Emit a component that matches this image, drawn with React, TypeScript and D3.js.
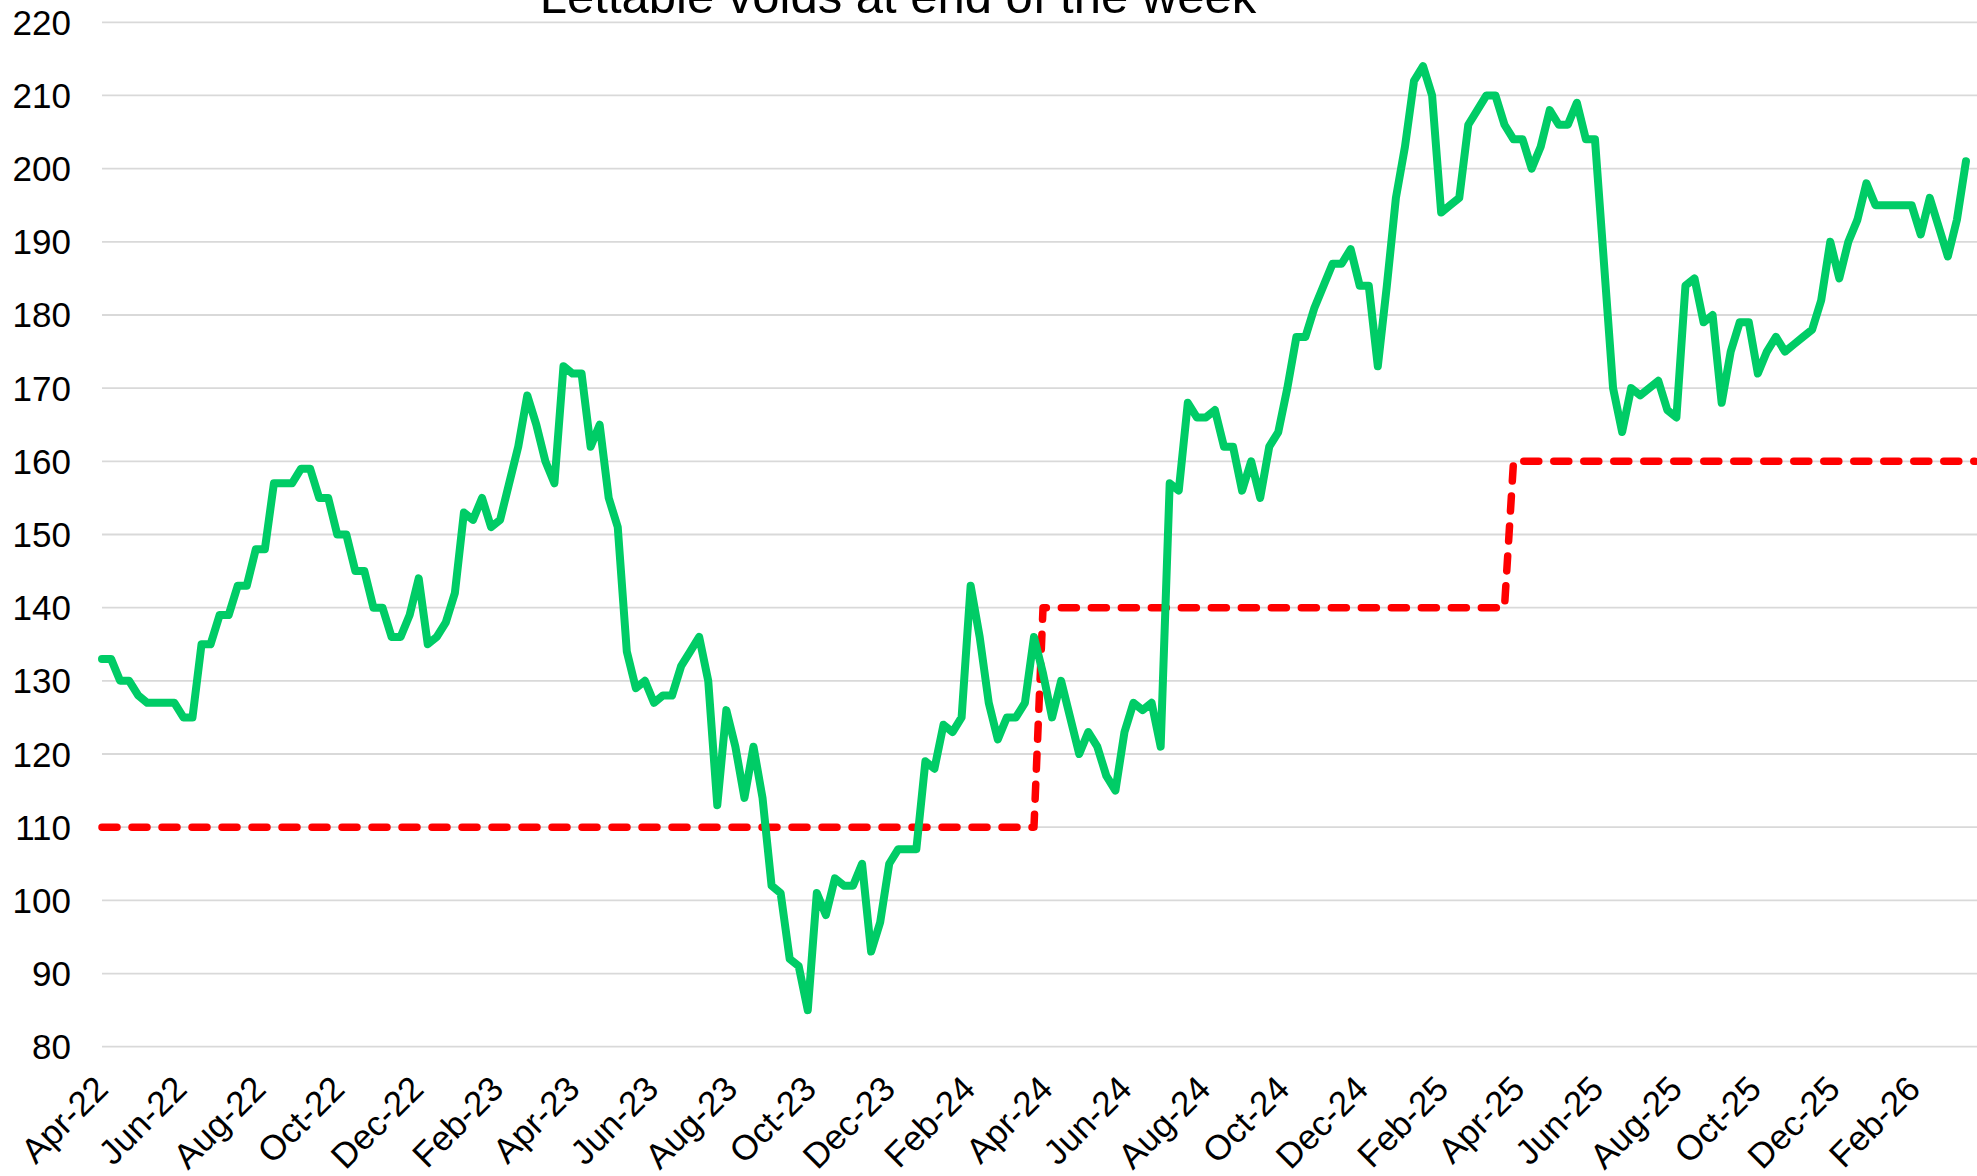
import React from "react";
import * as d3 from "d3";

const title = "Lettable voids at end of the week";

const startDate = new Date(2022, 3, 3);

const voids = [
  133, 133, 130, 130, 128, 127, 127, 127, 127, 125,
  125, 135, 135, 139, 139, 143, 143, 148, 148, 157,
  157, 157, 159, 159, 155, 155, 150, 150, 145, 145,
  140, 140, 136, 136, 139, 144, 135, 136, 138, 142,
  153, 152, 155, 151, 152, 157, 162, 169, 165, 160,
  157, 173, 172, 172, 162, 165, 155, 151, 134, 129,
  130, 127, 128, 128, 132, 134, 136, 130, 113, 126,
  121, 114, 121, 114, 102, 101, 92, 91, 85, 101,
  98, 103, 102, 102, 105, 93, 97, 105, 107, 107,
  107, 119, 118, 124, 123, 125, 143, 136, 127, 122,
  125, 125, 127, 136, 131, 125, 130, 125, 120, 123,
  121, 117, 115, 123, 127, 126, 127, 121, 157, 156,
  168, 166, 166, 167, 162, 162, 156, 160, 155, 162,
  164, 170, 177, 177, 181, 184, 187, 187, 189, 184,
  184, 173, 184, 196, 203, 212, 214, 210, 194, 195,
  196, 206, 208, 210, 210, 206, 204, 204, 200, 203,
  208, 206, 206, 209, 204, 204, 187, 170, 164, 170,
  169, 170, 171, 167, 166, 184, 185, 179, 180, 168,
  175, 179, 179, 172, 175, 177, 175, 176, 177, 178,
  182, 190, 185, 190, 193, 198, 195, 195, 195, 195,
  195, 191, 196, 192, 188, 193, 201,
];

const target = [
  110, 110, 110, 110, 110, 110, 110, 110, 110, 110,
  110, 110, 110, 110, 110, 110, 110, 110, 110, 110,
  110, 110, 110, 110, 110, 110, 110, 110, 110, 110,
  110, 110, 110, 110, 110, 110, 110, 110, 110, 110,
  110, 110, 110, 110, 110, 110, 110, 110, 110, 110,
  110, 110, 110, 110, 110, 110, 110, 110, 110, 110,
  110, 110, 110, 110, 110, 110, 110, 110, 110, 110,
  110, 110, 110, 110, 110, 110, 110, 110, 110, 110,
  110, 110, 110, 110, 110, 110, 110, 110, 110, 110,
  110, 110, 110, 110, 110, 110, 110, 110, 110, 110,
  110, 110, 110, 110,
  140, 140, 140, 140, 140, 140, 140, 140, 140, 140,
  140, 140, 140, 140, 140, 140, 140, 140, 140, 140,
  140, 140, 140, 140, 140, 140, 140, 140, 140, 140,
  140, 140, 140, 140, 140, 140, 140, 140, 140, 140,
  140, 140, 140, 140, 140, 140, 140, 140, 140, 140,
  140, 140,
  160, 160, 160, 160, 160, 160, 160, 160, 160, 160,
  160, 160, 160, 160, 160, 160, 160, 160, 160, 160,
  160, 160, 160, 160, 160, 160, 160, 160, 160, 160,
  160, 160, 160, 160, 160, 160, 160, 160, 160, 160,
  160, 160, 160, 160, 160, 160, 160, 160, 160, 160,
  160, 160,
];

const yTicks = [80, 90, 100, 110, 120, 130, 140, 150, 160, 170, 180, 190, 200, 210, 220];

const xTickLabels = [
  "Apr-22", "Jun-22", "Aug-22", "Oct-22", "Dec-22", "Feb-23",
  "Apr-23", "Jun-23", "Aug-23", "Oct-23", "Dec-23", "Feb-24",
  "Apr-24", "Jun-24", "Aug-24", "Oct-24", "Dec-24", "Feb-25",
  "Apr-25", "Jun-25", "Aug-25", "Oct-25", "Dec-25", "Feb-26",
];

export default function App() {
  const W = 1977;
  const H = 1176;
  const left = 102;
  const right = 1975;
  const dates = target.map((_, i) => d3.timeWeek.offset(startDate, i));
  const x = d3.scaleTime().domain([dates[0], dates[dates.length - 1]]).range([left, right]);
  const y = d3.scaleLinear().domain([80, 220]).range([1046.7, 22.3]);

  const line = d3
    .line<number>()
    .x((_, i) => x(dates[i]))
    .y((d) => y(d));

  const tickDates = xTickLabels.map((_, i) => d3.timeMonth.offset(startDate, 2 * i));
  const font = "'Liberation Sans', Arial, sans-serif";

  return (
    <svg
      width={W}
      height={H}
      style={{ position: "absolute", left: 0, top: 0, background: "#fff" }}
      fontFamily={font}
    >
      <rect x={0} y={0} width={W} height={H} fill="#fff" />
      {yTicks.map((t) => (
        <g key={t}>
          <line x1={left} x2={W} y1={y(t)} y2={y(t)} stroke="#d9d9d9" strokeWidth={1.8} />
          <text x={71} y={y(t)} textAnchor="end" dominantBaseline="central" fontSize={35} fill="#000">
            {t}
          </text>
        </g>
      ))}
      {tickDates.map((d, i) => {
        const tx = x(d) + 8;
        const ty = 1091;
        return (
          <text
            key={xTickLabels[i]}
            x={tx}
            y={ty}
            textAnchor="end"
            fontSize={35}
            fill="#000"
            transform={`rotate(-45 ${tx} ${ty})`}
          >
            {xTickLabels[i]}
          </text>
        );
      })}
      <path
        d={line(target) || ""}
        fill="none"
        stroke="#ff0000"
        strokeWidth={7.5}
        strokeDasharray="15 15"
        strokeLinecap="round"
        strokeLinejoin="round"
      />
      <path
        d={line(voids) || ""}
        fill="none"
        stroke="#00cc66"
        strokeWidth={8}
        strokeLinecap="round"
        strokeLinejoin="round"
      />
      <text x={898} y={13} textAnchor="middle" fontSize={49} fill="#000">
        {title}
      </text>
    </svg>
  );
}
